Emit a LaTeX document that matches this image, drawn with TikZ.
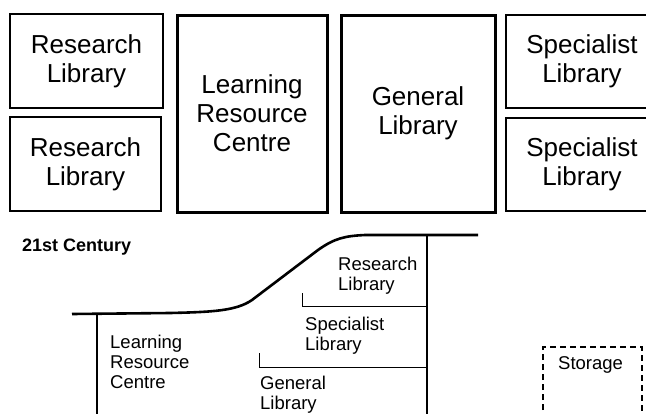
\documentclass[tikz,border=0pt]{standalone}
\usepackage{fontspec}
\setmainfont{Liberation Sans}
\begin{document}
\begin{tikzpicture}[x=1pt, y=-1pt,
    every node/.style={align=center, inner sep=0pt},
    plainbox/.style={draw, line width=1.4pt, font=\fontsize{26}{29}\selectfont},
    heavybox/.style={draw, line width=3pt, font=\fontsize{26}{29}\selectfont},
    plan/.style={font=\fontsize{18.5}{20}\selectfont, align=left, anchor=base west},
    wall/.style={line width=2.6pt},
    part/.style={line width=1pt}]
  \useasboundingbox (0,0) rectangle (646,413);
  \clip (0,0) rectangle (646,413);

  % 20th century
  \node[plainbox, minimum width=153pt, minimum height=94pt] (rl1) at (86.5,61)   {Research\\Library};
  \node[plainbox, minimum width=151pt, minimum height=94pt] (rl2) at (85.5,164)  {Research\\Library};
  \node[heavybox, minimum width=150pt, minimum height=197pt] (lrc) at (252,113.5) {Learning\\Resource\\Centre};
  \node[heavybox, minimum width=154pt, minimum height=197pt] (gl)  at (418,113.5) {General\\Library};
  \node[plainbox, minimum width=152pt, minimum height=93pt] (sl1) at (582,61.5)  {Specialist\\Library};
  \node[plainbox, minimum width=152pt, minimum height=93pt] (sl2) at (582,164.5) {Specialist\\Library};

  % 21st century
  \node[plan, font=\fontsize{18}{20}\selectfont\bfseries] (title) at (22,251) {21st Century};

  \draw[wall] (72,314) -- (170,313)
    .. controls (212,312) and (236,311) .. (252,300) -- (318,250)
    .. controls (335,238) and (345,236) .. (365,235) -- (478,235);
  \draw[wall] (97,314) -- (97,420);
  \draw[wall] (427,235) -- (427,420);
  \draw[part] (302,293) -- (302,306) -- (427,306);
  \draw[part] (259,353) -- (259,367) -- (427,367);

  % anchored at the baseline of the last line
  \node[plan] (rlb)  at (338,290) {Research\\Library};
  \node[plan] (slb)  at (305,350) {Specialist\\Library};
  \node[plan] (lrcb) at (110,388) {Learning\\Resource\\Centre};
  \node[plan] (glb)  at (260,409) {General\\Library};

  \draw[line width=1.4pt, dashed, dash pattern=on 6pt off 4pt] (543,440) -- (543,347) -- (642,347) -- (642,440);
  \node[plan] (st) at (558,369) {Storage};

\end{tikzpicture}
\end{document}
